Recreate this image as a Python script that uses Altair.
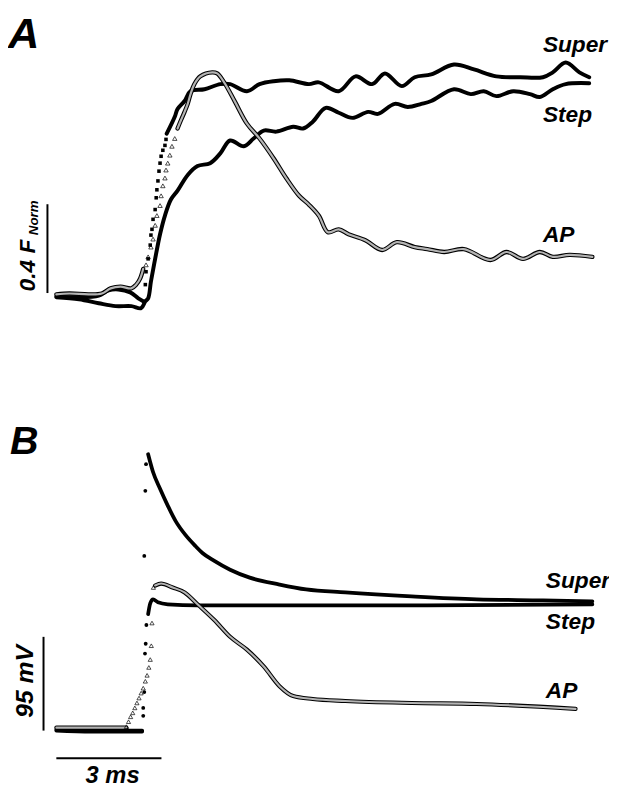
import altair as alt
import pandas as pd

# ---------------- Panel A : normalised fluorescence (F_Norm) vs time (ms) ----------------
A_SUPER_BASE_T = [0.00, 0.65, 1.21, 1.49, 1.77, 2.11, 2.34, 2.48]
A_SUPER_BASE_F = [0.000, -0.004, 0.004, 0.027, 0.031, 0.018, -0.009, -0.022]
A_SUPER_RISE_T = [2.54, 2.56, 2.62, 2.68, 2.70, 2.73, 2.76, 2.82, 2.85, 2.87, 2.90, 2.93, 2.96, 2.99, 3.04, 3.10, 3.13]
A_SUPER_RISE_F = [0.053, 0.111, 0.169, 0.231, 0.276, 0.302, 0.347, 0.391, 0.444, 0.480, 0.520, 0.564, 0.600, 0.631, 0.658, 0.680, 0.707]
A_SUPER_T = [3.15, 3.38, 3.46, 3.66, 3.83, 4.23, 4.68, 4.96, 5.44, 5.80, 6.20, 6.65, 7.21, 7.49, 8.06, 8.54, 9.01, 9.38,
             9.86, 10.23, 10.70, 11.35, 11.92, 12.56, 13.24, 13.89, 14.17, 14.54, 14.93, 15.21]
A_SUPER_F = [0.733, 0.809, 0.844, 0.880, 0.924, 0.933, 0.956, 0.956, 0.924, 0.956, 0.969, 0.973, 0.956, 0.964, 0.924, 0.991,
             0.956, 1.004, 0.947, 0.987, 1.000, 1.044, 1.022, 0.991, 0.987, 0.987, 1.009, 1.053, 1.009, 0.987]

A_STEP_T = [0.00, 0.65, 1.21, 1.69, 2.14, 2.42, 2.54, 2.62, 2.70, 2.82, 2.96, 3.10, 3.27, 3.46, 3.75, 4.03, 4.39, 4.68,
            4.96, 5.35, 5.63, 5.92, 6.28, 6.76, 7.04, 7.32, 7.69, 8.06, 8.45, 8.90, 9.18, 9.66, 10.03, 10.42, 10.70,
            11.35, 11.83, 12.20, 12.56, 13.04, 13.52, 13.80, 14.17, 14.54, 15.21]
A_STEP_F = [-0.004, -0.013, -0.031, -0.044, -0.044, -0.053, -0.022, -0.009, 0.067, 0.169, 0.280, 0.364, 0.436, 0.476,
            0.547, 0.587, 0.600, 0.644, 0.702, 0.676, 0.711, 0.747, 0.742, 0.764, 0.756, 0.787, 0.849, 0.827, 0.804,
            0.831, 0.822, 0.867, 0.853, 0.867, 0.880, 0.933, 0.911, 0.924, 0.902, 0.924, 0.911, 0.898, 0.933, 0.956, 0.960]

A_AP_BASE_T = [0.00, 0.37, 0.93, 1.30, 1.55, 1.83, 2.14, 2.28, 2.39, 2.48]
A_AP_BASE_F = [0.009, 0.013, 0.009, 0.013, 0.036, 0.044, 0.036, 0.053, 0.080, 0.124]
A_AP_RISE_T = [2.56, 2.62, 2.70, 2.76, 2.82, 2.87, 2.96, 2.99, 3.04, 3.10, 3.13, 3.18, 3.24, 3.30, 3.38]
A_AP_RISE_F = [0.142, 0.178, 0.222, 0.258, 0.320, 0.364, 0.409, 0.453, 0.498, 0.533, 0.569, 0.600, 0.636, 0.676, 0.711]
A_AP_T = [3.46, 3.55, 3.66, 3.75, 3.83, 3.94, 4.11, 4.45, 4.59, 4.79, 5.10, 5.44, 5.80, 6.20, 6.56, 6.93, 7.21, 7.49,
          7.75, 8.06, 8.34, 8.82, 9.30, 9.72, 10.23, 10.59, 11.07, 11.63, 12.39, 12.85, 13.32, 13.80, 14.17, 14.65, 15.30]
A_AP_F = [0.756, 0.791, 0.831, 0.867, 0.911, 0.956, 0.991, 1.009, 1.004, 0.964, 0.876, 0.778, 0.711, 0.622, 0.533, 0.453,
          0.413, 0.364, 0.289, 0.302, 0.280, 0.253, 0.209, 0.244, 0.222, 0.213, 0.200, 0.213, 0.164, 0.200, 0.169, 0.200,
          0.178, 0.187, 0.178]

# ---------------- Panel B : membrane voltage (mV) vs time (ms) ----------------
B_SUPER_BASE_T = [0.00, 1.00, 2.00, 2.45]
B_SUPER_BASE_V = [-91, -92, -92, -92]
B_SUPER_RISE_T = [2.48, 2.51, 2.54, 2.56]
B_SUPER_RISE_V = [-77, 85, 151, 178]
B_SUPER_T = [2.62, 2.76, 2.96, 3.18, 3.41, 3.69, 3.97, 4.17, 4.51, 4.96, 5.52, 6.37, 7.13, 8.25, 10.14, 12.00, 13.89, 15.30]
B_SUPER_V = [188, 170, 153, 136, 120, 106, 95, 88, 80, 71, 63, 56, 51, 48, 44, 41, 40, 39]

B_STEP_BASE_T = [0.00, 1.00, 2.00, 2.45]
B_STEP_BASE_V = [-92, -93, -93, -93]
B_STEP_RISE_T = [2.48, 2.51, 2.53, 2.55, 2.57]
B_STEP_RISE_V = [-69, -53, -14, -4, 15]
B_STEP_T = [2.62, 2.68, 2.76, 2.90, 3.18, 4.03, 6.85, 10.00, 15.30]
B_STEP_V = [26, 37, 41, 38, 36, 35, 35, 35, 36]

B_AP_BASE_T = [0.00, 1.00, 2.00]
B_AP_BASE_V = [-89, -89, -89]
B_AP_RISE_T = [2.00, 2.06, 2.12, 2.18, 2.24, 2.30, 2.36, 2.42, 2.48, 2.54, 2.59, 2.64, 2.68, 2.71, 2.73, 2.77]
B_AP_RISE_V = [-88, -83, -78, -74, -69, -64, -59, -54, -49, -42, -36, -28, -20, -6, 17, 53]
B_AP_T = [2.82, 2.99, 3.32, 3.66, 4.03, 4.51, 4.96, 5.44, 5.92, 6.37, 6.76, 7.32, 8.25, 10.14, 12.00, 14.82]
B_AP_V = [55, 57, 53, 48, 36, 20, 3, -10, -27, -47, -57, -60, -62, -64, -65, -70]

TRACE_NAMES = ["Super", "Step", "AP"]
PANEL_NAMES = ["A", "B"]
SCALE_A_LABEL = ["0.4 F", "Norm"]
SCALE_B_LABEL = ["95 mV", "3 ms"]

# ---------------- layout ----------------
W, H = 609, 784
T_DOMAIN = [-1.380, 15.775]
F_DOMAIN = [-2.209, 1.2756]
V_DOMAIN = [-149, 635]
FONT = "Liberation Sans"


def frame(t, v, seg):
    return pd.DataFrame({"t": t, "v": v, "seg": seg})


def xenc(field="t"):
    return alt.X(f"{field}:Q", scale=alt.Scale(domain=T_DOMAIN, nice=False, zero=False), axis=None)


def yenc(domain, field="v"):
    return alt.Y(f"{field}:Q", scale=alt.Scale(domain=domain, nice=False, zero=False), axis=None)


def lines(df, domain, color, width, interp="catmull-rom"):
    return alt.Chart(df).mark_line(color=color, strokeWidth=width, interpolate=interp,
                                   strokeCap="round", strokeJoin="round").encode(
        x=xenc(), y=yenc(domain), detail="seg:N", order="t:Q")


def squares(df, domain, size=13):
    return alt.Chart(df).mark_square(color="black", size=size, opacity=1).encode(x=xenc(), y=yenc(domain))


def dots(df, domain, size=15):
    return alt.Chart(df).mark_circle(color="black", size=size, opacity=1).encode(x=xenc(), y=yenc(domain))


def triangles(df, domain, size=20):
    return alt.Chart(df).mark_point(shape="triangle-up", size=size, filled=False, color="black",
                                    strokeWidth=0.7, opacity=1).encode(x=xenc(), y=yenc(domain))


def bar(t1, v1, t2, v2, domain):
    df = pd.DataFrame({"t": [t1], "v": [v1], "t2": [t2], "v2": [v2]})
    return alt.Chart(df).mark_rule(color="black", strokeWidth=2).encode(
        x=xenc(), y=yenc(domain), x2="t2:Q", y2="v2:Q")


def label(text, x, y, size, angle=0, align="left"):
    return alt.Chart(pd.DataFrame({"k": [0]})).mark_text(
        text=text, font=FONT, fontSize=size, fontWeight="bold", fontStyle="italic",
        align=align, baseline="alphabetic", angle=angle, color="black").encode(
        x=alt.value(x), y=alt.value(y))


# Panel A data frames
a_black = pd.concat([
    frame(A_SUPER_BASE_T, A_SUPER_BASE_F, "super_base"),
    frame(A_SUPER_T, A_SUPER_F, "super"),
    frame(A_STEP_T, A_STEP_F, "step"),
])
a_ap = pd.concat([
    frame(A_AP_BASE_T, A_AP_BASE_F, "ap_base"),
    frame(A_AP_T, A_AP_F, "ap"),
])
a_sq = frame(A_SUPER_RISE_T, A_SUPER_RISE_F, "super_rise")
a_tri = frame(A_AP_RISE_T, A_AP_RISE_F, "ap_rise")

# Panel B data frames
b_black = pd.concat([
    frame(B_SUPER_BASE_T, B_SUPER_BASE_V, "super_base"),
    frame(B_SUPER_T, B_SUPER_V, "super"),
    frame(B_STEP_BASE_T, B_STEP_BASE_V, "step_base"),
    frame(B_STEP_T, B_STEP_V, "step"),
])
b_ap = pd.concat([
    frame(B_AP_BASE_T, B_AP_BASE_V, "ap_base"),
    frame(B_AP_T, B_AP_V, "ap"),
])
b_dots = pd.concat([
    frame(B_SUPER_RISE_T, B_SUPER_RISE_V, "super_rise"),
    frame(B_STEP_RISE_T, B_STEP_RISE_V, "step_rise"),
])
b_tri = frame(B_AP_RISE_T, B_AP_RISE_V, "ap_rise")

AP_FILL = "#b4b4b4"

layers = [
    # panel A
    lines(a_black, F_DOMAIN, "black", 4),
    squares(a_sq, F_DOMAIN),
    lines(a_ap, F_DOMAIN, "black", 4.4),
    lines(a_ap, F_DOMAIN, AP_FILL, 2.2),
    triangles(a_tri, F_DOMAIN),
    bar(-0.254, 0.015, -0.254, 0.415, F_DOMAIN),
    # panel B
    lines(b_black, V_DOMAIN, "black", 3.8, "monotone"),
    dots(b_dots, V_DOMAIN),
    lines(b_ap, V_DOMAIN, "black", 4.2, "monotone"),
    lines(b_ap, V_DOMAIN, AP_FILL, 2.1, "monotone"),
    triangles(b_tri, V_DOMAIN, 18),
    bar(-0.366, -92, -0.366, 3, V_DOMAIN),
    bar(0.0, -120, 3.0, -120, V_DOMAIN),
    # text
    label(PANEL_NAMES[0], 0, 35, 44),
    label(PANEL_NAMES[1], 2, 447, 40),
    label(TRACE_NAMES[0], 542, 39, 23),
    label(TRACE_NAMES[1], 542, 110, 23),
    label(TRACE_NAMES[2], 542, 232, 23),
    label(TRACE_NAMES[0], 545, 582, 23),
    label(TRACE_NAMES[1], 545, 624, 23),
    label(TRACE_NAMES[2], 545, 694, 23),
    label(SCALE_A_LABEL[0], 27, 282, 23, angle=270),
    label(SCALE_A_LABEL[1], 30, 225, 13.5, angle=270),
    label(SCALE_B_LABEL[0], 25, 714, 25, angle=270),
    label(SCALE_B_LABEL[1], 106, 780, 24, align="center"),
]

chart = alt.layer(*layers).resolve_scale(y="independent").properties(
    width=W, height=H, autosize=alt.AutoSizeParams(type="none"), padding=0
).configure_view(stroke=None)

chart.save("out.html", embed_options={"renderer": "svg", "actions": False})
